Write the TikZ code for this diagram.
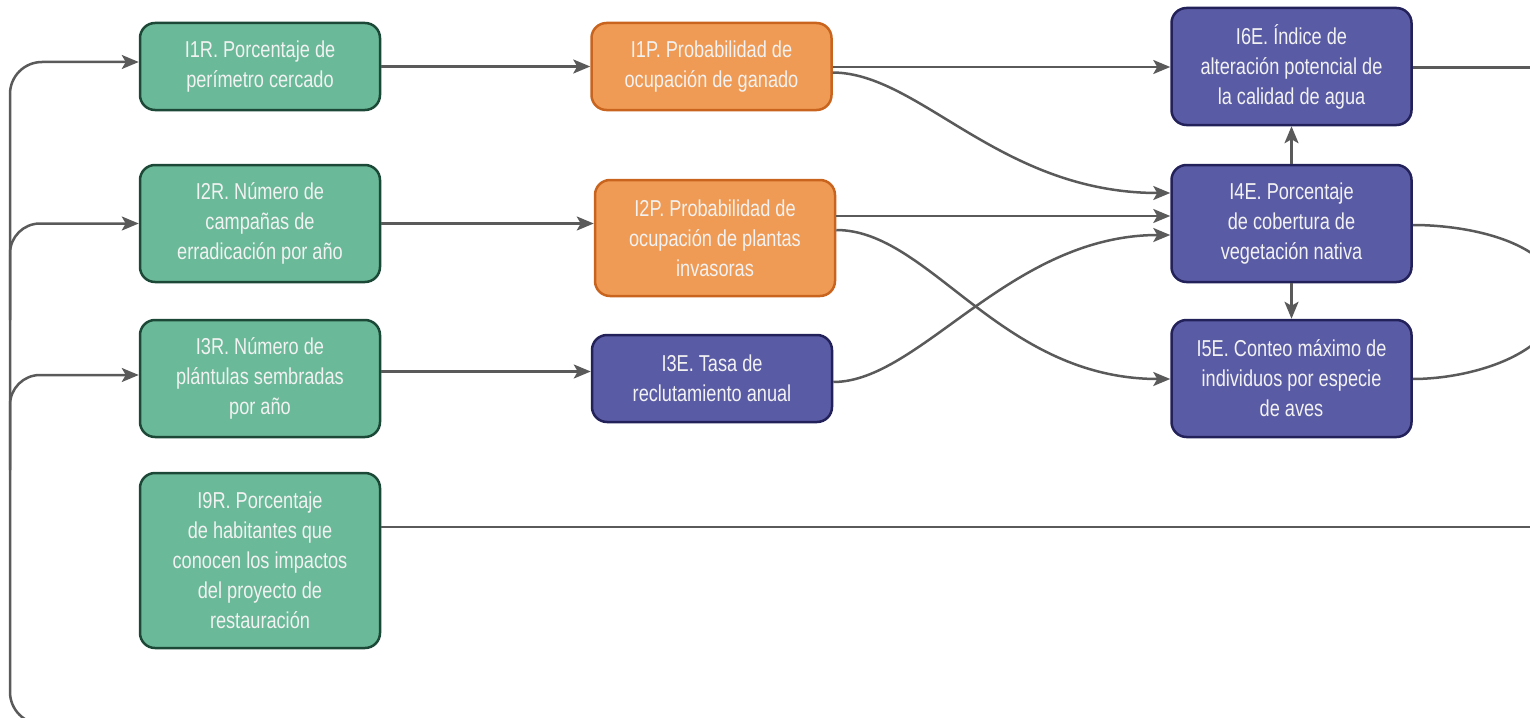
\documentclass[tikz,border=0pt]{standalone}
\usepackage{fontspec}
\setmainfont[FakeStretch=0.79]{Liberation Sans}
\usetikzlibrary{arrows.meta}
\definecolor{gfill}{RGB}{106,185,152}
\definecolor{gdraw}{RGB}{28,72,55}
\definecolor{ofill}{RGB}{240,155,85}
\definecolor{odraw}{RGB}{200,100,30}
\definecolor{pfill}{RGB}{90,91,165}
\definecolor{pdraw}{RGB}{35,33,90}
\definecolor{linkgray}{RGB}{90,90,90}
\definecolor{txt}{RGB}{242,242,242}
\tikzset{
  box/.style={rounded corners=15pt, line width=2.5pt, minimum width=240pt,
    align=center, text=txt, font=\fontsize{23}{30}\selectfont, inner sep=0pt},
  resp/.style={box, fill=gfill, draw=gdraw},
  pres/.style={box, fill=ofill, draw=odraw},
  eco/.style={box, fill=pfill, draw=pdraw},
  link/.style={draw=linkgray, line width=2.5pt},
  flow/.style={link, -{Stealth[length=17pt, width=14pt, inset=4pt]}},
}
\begin{document}
\begin{tikzpicture}[x=1pt, y=-1pt]
\useasboundingbox (0,0) rectangle (1530,717);
\clip (0,0) rectangle (1530,717);

% response indicators
\node[resp, minimum height=87pt]  (r1) at (260,66.5)  {I1R. Porcentaje de\\perímetro cercado};
\node[resp, minimum height=117pt] (r2) at (260,223.5) {I2R. Número de\\campañas de\\erradicación por año};
\node[resp, minimum height=117pt] (r3) at (260,378.5) {I3R. Número de\\plántulas sembradas\\por año};
\node[resp, minimum height=175pt] (r9) at (260,560.5) {I9R. Porcentaje\\de habitantes que\\conocen los impactos\\del proyecto de\\restauración};

% pressure indicators
\node[pres, minimum height=87pt]  (p1) at (711.5,66.5) {I1P. Probabilidad de\\ocupación de ganado};
\node[pres, minimum height=116pt] (p2) at (715,238)    {I2P. Probabilidad de\\ocupación de plantas\\invasoras};

% state indicators
\node[eco, minimum height=87pt]  (e3) at (712,378.5)    {I3E. Tasa de\\reclutamiento anual};
\node[eco, minimum height=117pt] (e6) at (1291.5,66.5)  {I6E. Índice de\\alteración potencial de\\la calidad de agua};
\node[eco, minimum height=117pt] (e4) at (1291.5,223.5) {I4E. Porcentaje\\de cobertura de\\vegetación nativa};
\node[eco, minimum height=117pt] (e5) at (1291.5,378.5) {I5E. Conteo máximo de\\individuos por especie\\de aves};

% feedback loop on the left
\coordinate (loopin) at (1600,724);
\draw[flow, rounded corners=32pt] (loopin) -| (10,62) -- ([yshift=4.5pt]r1.west);
\draw[flow, rounded corners=30pt] (10,320) |- (r2.west);
\draw[flow, rounded corners=30pt] (10,470) |- ([yshift=3.5pt]r3.west);

% responses to pressures
\draw[flow] (r1.east) -- (p1.west);
\draw[flow] (r2.east) -- (r2.east -| p2.west);
\draw[flow] ([yshift=7pt]r3.east) -- ([yshift=7pt]e3.west);

% pressures and states
\draw[flow] ([yshift=-0.5pt]p1.east) -- ([yshift=-0.5pt]p1.east -| e6.west);
\draw[flow] ([yshift=-6pt]p1.east) .. controls (920,73) and (1000,193) .. ([yshift=30.5pt]e4.west);
\draw[flow] ([yshift=22pt]p2.east) -- ([yshift=22pt]p2.east -| e4.west);
\draw[flow] ([yshift=8pt]p2.east) .. controls (930,230) and (1000,379) .. ([yshift=-0.5pt]e5.west);
\draw[flow] ([yshift=-3.5pt]e3.east) .. controls (920,382) and (1010,235) .. ([yshift=-11.5pt]e4.west);
\draw[flow] (e4.north) -- (e6.south);
\draw[flow] (e4.south) -- (e5.north);

% links leaving to the right
\coordinate (outB) at (1560,300);
\draw[link] ([yshift=-1pt]e6.east) -- ++(200,0);
\draw[link] ([yshift=-1.5pt]e4.east) .. controls (1475,225) and (1560,245) .. (outB);
\draw[link] ([yshift=-0.5pt]e5.east) .. controls (1470,379) and (1555,355) .. (outB);
\draw[link] ([yshift=33.5pt]r9.east) -- ++(1300,0);
\end{tikzpicture}
\end{document}
